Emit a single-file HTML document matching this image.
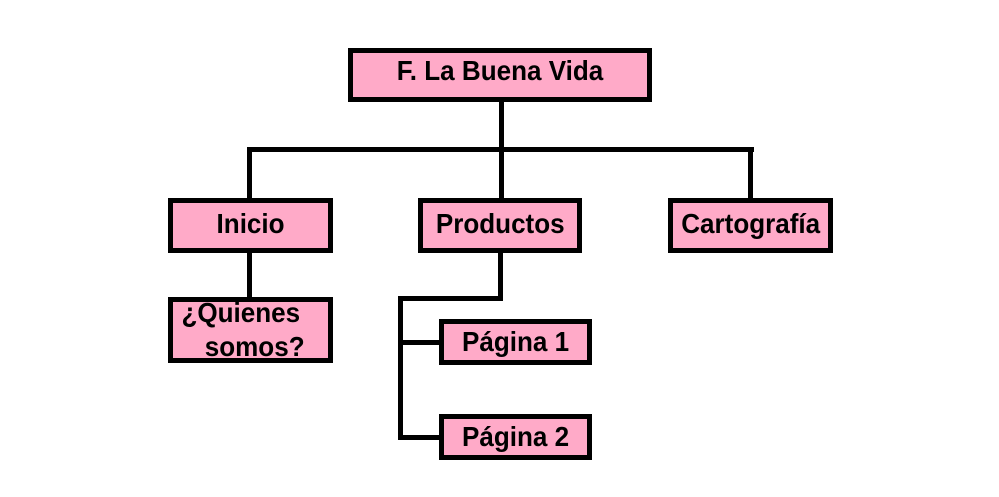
<!DOCTYPE html>
<html><head><meta charset="utf-8"><style>
body{margin:0;width:999px;height:497px;background:#fff;position:relative;overflow:hidden;font-family:"Liberation Sans",sans-serif;}
.b{position:absolute;box-sizing:border-box;background:#ffaac8;border:5px solid #000;font-weight:bold;font-size:28px;color:#000;display:flex;align-items:center;justify-content:center;}
.b span{display:inline-block;transform:scaleX(0.93);white-space:nowrap}
.l{position:absolute;background:#000;}
</style></head><body>
<div class="l" style="left:499px;top:100px;width:5px;height:100px"></div>
<div class="l" style="left:247px;top:147px;width:507px;height:5px"></div>
<div class="l" style="left:247px;top:147px;width:5px;height:53px"></div>
<div class="l" style="left:748px;top:147px;width:5px;height:53px"></div>
<div class="l" style="left:247px;top:250px;width:5px;height:49px"></div>
<div class="l" style="left:498px;top:250px;width:5px;height:50px"></div>
<div class="l" style="left:398px;top:296px;width:105px;height:5px"></div>
<div class="l" style="left:398px;top:296px;width:5px;height:144px"></div>
<div class="l" style="left:398px;top:340px;width:44px;height:5px"></div>
<div class="l" style="left:398px;top:435px;width:44px;height:5px"></div>

<div class="b" style="left:348px;top:48px;width:304px;height:54px;padding-bottom:8px"><span>F. La Buena Vida</span></div>
<div class="b" style="left:168px;top:198px;width:165px;height:55px;padding-bottom:4px"><span>Inicio</span></div>
<div class="b" style="left:418px;top:198px;width:164px;height:55px;padding-bottom:4px"><span>Productos</span></div>
<div class="b" style="left:668px;top:198px;width:165px;height:55px;padding-bottom:4px"><span>Cartografía</span></div>
<div class="b" style="left:168px;top:297px;width:165px;height:66px;display:block;overflow:hidden"><span style="position:absolute;left:4px;top:-5px">¿Quienes</span><span style="position:absolute;left:28px;top:29px">somos?</span></div>
<div class="b" style="left:439px;top:319px;width:153px;height:46px"><span>Página 1</span></div>
<div class="b" style="left:439px;top:414px;width:153px;height:46px"><span>Página 2</span></div>
</body></html>
